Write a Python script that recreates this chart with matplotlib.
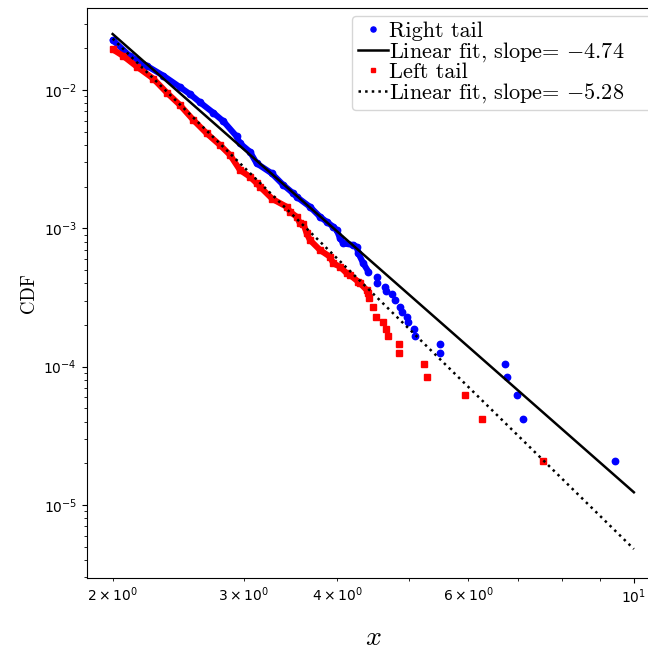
import matplotlib
matplotlib.use("Agg")
import matplotlib.pyplot as plt
from matplotlib.font_manager import FontProperties
import numpy as np

# ---- data ----
right_dense_x = [2.000, 2.110, 2.221, 2.339, 2.462, 2.539, 2.619, 2.729, 2.815, 2.933,
                 2.963, 3.056, 3.120, 3.268, 3.387, 3.493, 3.530, 3.678, 3.794, 3.873,
                 3.953, 3.995, 4.036, 4.078, 4.205, 4.249, 4.271, 4.337, 4.405]
right_dense_y = [0.0230, 0.01760, 0.01500, 0.01270, 0.01050, 0.00935, 0.00815, 0.00685, 0.00595, 0.00462,
                 0.00412, 0.00358, 0.00295, 0.00250, 0.00206, 0.00179, 0.00169, 0.001432, 0.001213, 0.001116,
                 0.001027, 0.000972, 0.000847, 0.000779, 0.000757, 0.000736, 0.000660, 0.000558, 0.000486]
right_tail_x = [4.521, 4.529, 4.638, 4.650, 4.735, 4.783, 4.858, 4.893, 4.960, 4.975,
                5.078, 5.086, 5.50, 5.50, 6.71, 6.76, 6.98, 7.09, 9.43]
right_tail_y = [0.000447, 0.000400, 0.000378, 0.000354, 0.000335, 0.000303, 0.000271, 0.000249, 0.000229, 0.000209,
                0.000187, 0.000166, 0.000146, 0.000125, 0.000105, 0.0000837, 0.0000627, 0.0000418, 0.0000209]

left_dense_x = [2.000, 2.067, 2.154, 2.267, 2.363, 2.462, 2.566, 2.674, 2.786, 2.874,
                2.963, 3.056, 3.120, 3.152, 3.276, 3.423, 3.459, 3.530, 3.567, 3.604,
                3.641, 3.678, 3.794, 3.913, 3.953, 4.036, 4.121, 4.163, 4.271, 4.294,
                4.383, 4.405]
left_dense_y = [0.01970, 0.01760, 0.01480, 0.01210, 0.00960, 0.00779, 0.00607, 0.00486, 0.00400, 0.00339,
                0.00264, 0.00236, 0.00212, 0.00200, 0.00163, 0.001432, 0.001318, 0.001213, 0.001087, 0.001080,
                0.000920, 0.000823, 0.000697, 0.000623, 0.000558, 0.000528, 0.000473, 0.000459, 0.000411, 0.000400,
                0.000358, 0.000339]
left_tail_x = [4.417, 4.464, 4.510, 4.613, 4.653, 4.681, 4.839, 4.843, 5.232, 5.282,
               5.934, 6.263, 7.543]
left_tail_y = [0.000312, 0.000268, 0.000229, 0.000209, 0.000187, 0.000166, 0.000146, 0.000125, 0.000105, 0.0000837,
               0.0000627, 0.0000418, 0.0000209]

fit_x_range = [2.0, 10.0]
right_fit_amp, right_fit_slope = 0.679, -4.74
left_fit_amp, left_fit_slope = 0.915, -5.28

labels = ["Right tail", "Linear fit, slope= $-4.74$", "Left tail", "Linear fit, slope= $-5.28$"]

# ---- figure ----
W, H = 648, 653
fig = plt.figure(figsize=(W / 100, H / 100), dpi=100)
ax = fig.add_axes([86.7 / W, 1 - 577.7 / H, (659.7 - 86.7) / W, (577.7 - 8.3) / H])
ax.set_xscale("log")
ax.set_yscale("log")

ms = 4.6
band = ms * 0.95
ax.plot(right_dense_x, right_dense_y, "-", color="b", lw=band, solid_capstyle="round", zorder=2)
h_r, = ax.plot(right_dense_x + right_tail_x, right_dense_y + right_tail_y, "o", color="b",
               ms=ms, mec="b", ls="none", zorder=2)
fx = np.array(fit_x_range)
h_rf, = ax.plot(fx, right_fit_amp * fx ** right_fit_slope, "-", color="k", lw=1.8, zorder=4)
ax.plot(left_dense_x, left_dense_y, "-", color="r", lw=band, solid_capstyle="butt", zorder=2)
h_l, = ax.plot(left_dense_x + left_tail_x, left_dense_y + left_tail_y, "s", color="r",
               ms=ms * 0.9, mec="r", ls="none", zorder=2)
h_lf, = ax.plot(fx, left_fit_amp * fx ** left_fit_slope, ":", color="k", lw=1.8, zorder=4)

ax.set_xlim(1.846, 10.83)
ax.set_ylim(2.98e-6, 0.039)

ax.set_ylabel("CDF", family="cmr10", fontsize=13.5)
ax.set_xlabel("$x$", math_fontfamily="cm", fontsize=20, labelpad=12.5)

lp = FontProperties(family="cmr10", size=16, math_fontfamily="cm")
leg = ax.legend([h_r, h_rf, h_l, h_lf], labels, loc="upper left",
                bbox_to_anchor=(352 / W, 0, 310 / W, 1 - 16 / H), bbox_transform=fig.transFigure,
                mode="expand", borderaxespad=0, prop=lp,
                handletextpad=0.05, labelspacing=-0.05, borderpad=0.25, markerscale=0.8,
                handlelength=1.35, numpoints=1)

fig.savefig("out.png", dpi=100)
